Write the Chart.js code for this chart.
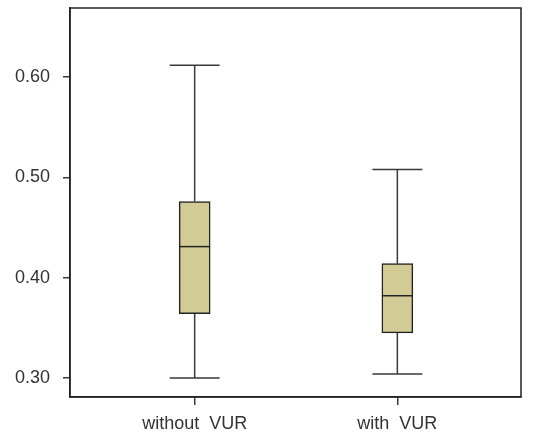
<!DOCTYPE html>
<html>
<head>
<meta charset="utf-8">
<script src="https://cdn.jsdelivr.net/npm/chart.js@4"></script>
<style>
    html, body { margin: 0; padding: 0; background: #fff; }
    #wrap { width: 547px; height: 436px; }
</style>
</head>
<body>
<div id="wrap"><canvas id="boxChart"></canvas></div>
<script>
// Box plot data
const categories = ['without  VUR', 'with  VUR'];
const positions = [1, 2];
const whiskerLow = [0.300, 0.304];
const q1 = [0.364, 0.345];
const median = [0.431, 0.382];
const q3 = [0.476, 0.414];
const whiskerHigh = [0.612, 0.508];
const yTicks = [0.30, 0.40, 0.50, 0.60];

const lineColor = '#3a3a3a';
const textColor = '#333';

// Whiskers, caps and medians drawn through the chart scales
const boxExtras = {
    id: 'boxExtras',
    afterDatasetsDraw(chart) {
        const c = chart.ctx;
        const x = chart.scales.x;
        const y = chart.scales.y;
        const meta = chart.getDatasetMeta(0);
        c.save();
        c.strokeStyle = lineColor;
        c.lineWidth = 1.5;
        positions.forEach((p, i) => {
            const px = x.getPixelForValue(p);
            const half = meta.data[i].width / 2;
            const capHalf = 25;
            c.beginPath();
            // upper whisker
            c.moveTo(px, y.getPixelForValue(q3[i]));
            c.lineTo(px, y.getPixelForValue(whiskerHigh[i]));
            c.moveTo(px - capHalf, y.getPixelForValue(whiskerHigh[i]));
            c.lineTo(px + capHalf, y.getPixelForValue(whiskerHigh[i]));
            // lower whisker
            c.moveTo(px, y.getPixelForValue(q1[i]));
            c.lineTo(px, y.getPixelForValue(whiskerLow[i]));
            c.moveTo(px - capHalf, y.getPixelForValue(whiskerLow[i]));
            c.lineTo(px + capHalf, y.getPixelForValue(whiskerLow[i]));
            c.stroke();
            // median
            c.beginPath();
            c.strokeStyle = '#222';
            c.moveTo(px - half, y.getPixelForValue(median[i]));
            c.lineTo(px + half, y.getPixelForValue(median[i]));
            c.stroke();
            c.strokeStyle = lineColor;
        });
        // frame round the plot area
        const a = chart.chartArea;
        c.strokeStyle = '#222';
        c.lineWidth = 1.5;
        c.strokeRect(a.left, a.top, a.right - a.left, a.bottom - a.top);
        c.restore();
    }
};

const ctx = document.getElementById('boxChart').getContext('2d');

const chart = new Chart(ctx, {
    type: 'bar',
    data: {
        datasets: [{
            data: positions.map((p, i) => ({ x: p, y: [q1[i], q3[i]] })),
            backgroundColor: '#d3cb96',
            borderColor: '#222',
            borderWidth: 1.5,
            borderSkipped: false,
            barThickness: 31
        }]
    },
    options: {
        responsive: true,
        maintainAspectRatio: false,
        animation: false,
        layout: {
            padding: { top: 8, right: 26, bottom: 0, left: 0 }
        },
        plugins: {
            legend: { display: false },
            tooltip: { enabled: false }
        },
        scales: {
            x: {
                type: 'linear',
                offset: false,
                min: 0.385,
                max: 2.61,
                afterBuildTicks: (scale) => {
                    scale.ticks = positions.map(v => ({ value: v }));
                },
                afterFit: (scale) => {
                    scale.height = 39;
                },
                ticks: {
                    color: textColor,
                    font: { family: 'Arial, "Liberation Sans"', size: 18 },
                    padding: 8,
                    maxRotation: 0,
                    callback: (v) => categories[positions.indexOf(v)]
                },
                grid: {
                    offset: false,
                    drawOnChartArea: false,
                    drawTicks: true,
                    tickLength: 8,
                    color: lineColor,
                    lineWidth: 1.5
                },
                border: { display: true, color: '#222', width: 1.5 }
            },
            y: {
                min: 0.281,
                max: 0.669,
                afterBuildTicks: (scale) => {
                    scale.ticks = yTicks.map(v => ({ value: v }));
                },
                afterFit: (scale) => {
                    scale.width = 70;
                    scale.paddingTop = 0;
                    scale.paddingBottom = 0;
                },
                ticks: {
                    color: textColor,
                    font: { family: 'Arial, "Liberation Sans"', size: 18 },
                    padding: 13,
                    callback: (v) => v.toFixed(2)
                },
                grid: {
                    drawOnChartArea: false,
                    drawTicks: true,
                    tickLength: 7,
                    color: lineColor,
                    lineWidth: 1.5
                },
                border: { display: true, color: '#222', width: 1.5 }
            }
        }
    },
    plugins: [boxExtras]
});
</script>
</body>
</html>
